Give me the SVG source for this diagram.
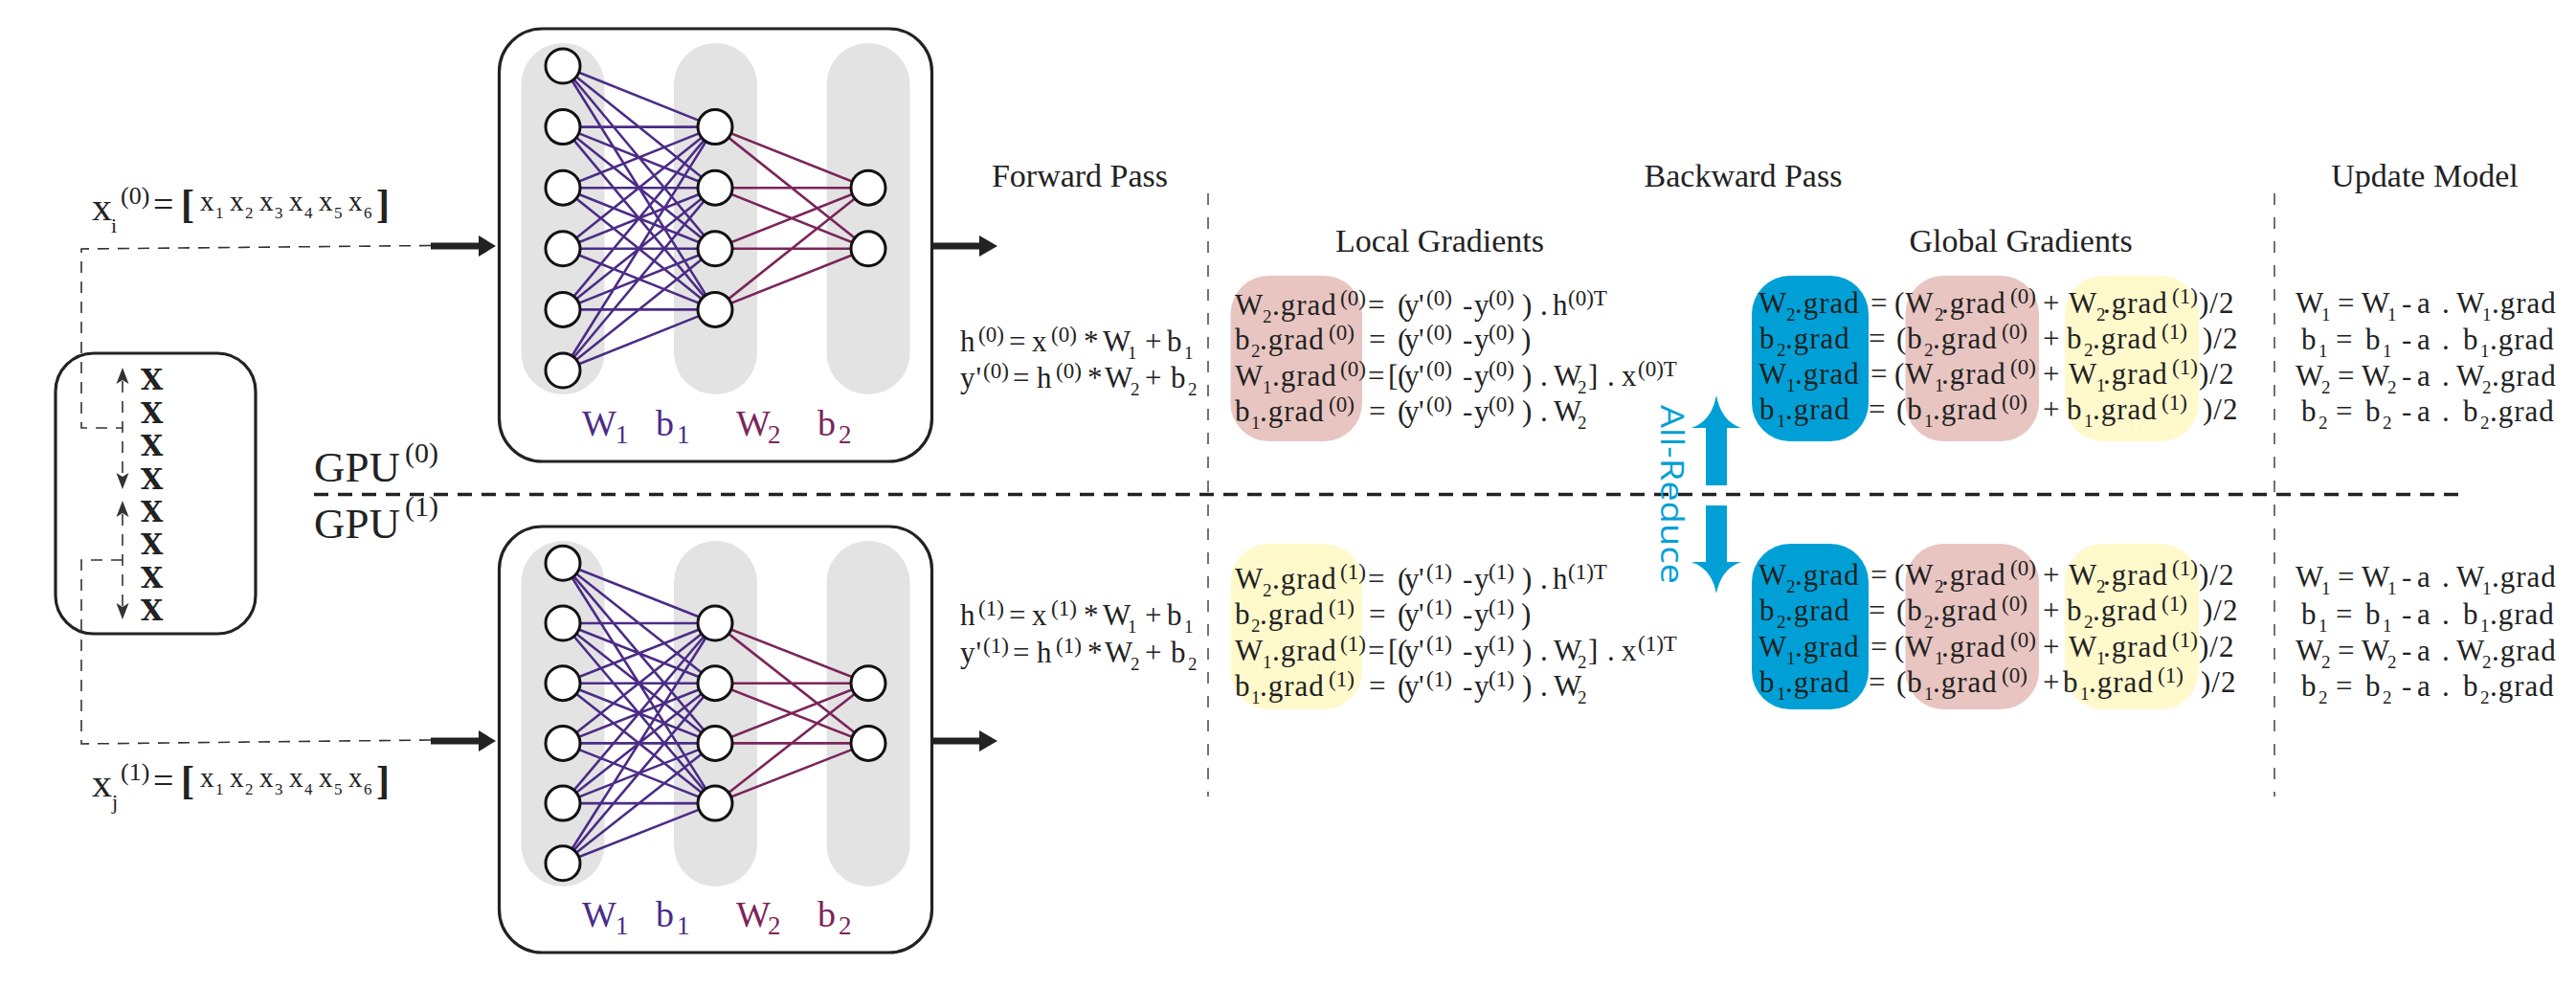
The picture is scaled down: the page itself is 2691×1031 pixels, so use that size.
<svg xmlns="http://www.w3.org/2000/svg" width="2691" height="1031" viewBox="0 0 2691 1031">
<style>
text{font-family:"Liberation Serif","Times New Roman",serif;fill:#222}
.hd{font-size:34px}
.eq{font-size:31px;letter-spacing:1px}
.s{font-size:23px;letter-spacing:0}
.sb{font-size:19px;letter-spacing:0}
.X{font-family:"DejaVu Serif",serif;font-weight:bold;font-size:30px}
.gpu{font-size:45px}
.gs{font-size:30px}
.brk{font-weight:bold;font-size:42px}
.xv{font-size:29px}
.xs{font-size:17px}
.nl{font-size:38px}
.nls{font-size:27px}
.p1{fill:#4b2c86}
.p2{fill:#7b2559}
.box{fill:#fff;stroke:#222;stroke-width:3.2}
.col{fill:#e3e3e3}
.node{fill:#fff;stroke:#111;stroke-width:3}
.e1{fill:none;stroke:#4b2c86;stroke-width:2.6}
.e2{fill:none;stroke:#7b2559;stroke-width:2.6}
.dl{fill:none;stroke:#333;stroke-width:1.6;stroke-dasharray:12 9}
.vd{fill:none;stroke:#444;stroke-width:1.5;stroke-dasharray:12 13}
.gd{fill:none;stroke:#222;stroke-width:3.5;stroke-dasharray:15 10}
.thick{stroke:#222;stroke-width:7}
.ah{fill:#222}
.sh{fill:#333}
.pink{fill:#e8c5c1}
.yel{fill:#fff9cc}
.blue{fill:#00a0d6}
</style>
<rect width="2691" height="1031" fill="#fff"/>

<g id="dividers">
<path class="vd" d="M1262,202V832"/>
<path class="vd" d="M2376,202V832"/>
<path class="gd" d="M328,516.5H2575"/>
</g>

<g id="data-box">
<rect class="box" x="58" y="369" width="209" height="293" rx="40"/>
<text class="X" x="147" y="407">X</text>
<text class="X" x="147" y="442">X</text>
<text class="X" x="147" y="476">X</text>
<text class="X" x="147" y="511">X</text>
<text class="X" x="147" y="545">X</text>
<text class="X" x="147" y="579">X</text>
<text class="X" x="147" y="614">X</text>
<text class="X" x="147" y="648">X</text>
</g>

<g id="xi-label">
<text><tspan x="96" y="230" font-size="42">x</tspan><tspan x="116" y="243" font-size="22">i</tspan><tspan x="126" y="213" font-size="26">(0)</tspan><tspan x="160" y="226" font-size="38">=</tspan></text>
<text class="brk" x="189" y="227">[</text>
<text class="xv"><tspan x="209" y="220">x</tspan><tspan class="xs" x="225" y="228">1</tspan><tspan x="240" y="220">x</tspan><tspan class="xs" x="256" y="228">2</tspan><tspan x="271" y="220">x</tspan><tspan class="xs" x="287" y="228">3</tspan><tspan x="302" y="220">x</tspan><tspan class="xs" x="318" y="228">4</tspan><tspan x="333" y="220">x</tspan><tspan class="xs" x="349" y="228">5</tspan><tspan x="364" y="220">x</tspan><tspan class="xs" x="380" y="228">6</tspan></text>
<text class="brk" x="393" y="227">]</text>
</g>
<g id="xj-label">
<text><tspan x="96" y="832" font-size="42">x</tspan><tspan x="117" y="845" font-size="22">j</tspan><tspan x="126" y="815" font-size="26">(1)</tspan><tspan x="160" y="828" font-size="38">=</tspan></text>
<text class="brk" x="189" y="829">[</text>
<text class="xv"><tspan x="209" y="822">x</tspan><tspan class="xs" x="225" y="830">1</tspan><tspan x="240" y="822">x</tspan><tspan class="xs" x="256" y="830">2</tspan><tspan x="271" y="822">x</tspan><tspan class="xs" x="287" y="830">3</tspan><tspan x="302" y="822">x</tspan><tspan class="xs" x="318" y="830">4</tspan><tspan x="333" y="822">x</tspan><tspan class="xs" x="349" y="830">5</tspan><tspan x="364" y="822">x</tspan><tspan class="xs" x="380" y="830">6</tspan></text>
<text class="brk" x="393" y="829">]</text>
</g>

<g id="gpu-labels">
<text class="gpu" x="328" y="503">GPU<tspan class="gs" x="423" y="483">(0)</tspan></text>
<text class="gpu" x="328" y="562">GPU<tspan class="gs" x="423" y="539">(1)</tspan></text>
</g>

<g id="nn-gpu0">
<rect class="box" x="521.5" y="30" width="452" height="452" rx="45"/>
<rect class="col" x="544.5" y="45" width="87" height="367" rx="43.5"/>
<rect class="col" x="704" y="45" width="87" height="367" rx="43.5"/>
<rect class="col" x="863.5" y="45" width="87" height="367" rx="43.5"/>
<path class="e1" d="M588 69L747 132.6M588 69L747 196.2M588 69L747 259.8M588 69L747 323.4M588 132.6L747 132.6M588 132.6L747 196.2M588 132.6L747 259.8M588 132.6L747 323.4M588 196.2L747 132.6M588 196.2L747 196.2M588 196.2L747 259.8M588 196.2L747 323.4M588 259.8L747 132.6M588 259.8L747 196.2M588 259.8L747 259.8M588 259.8L747 323.4M588 323.4L747 132.6M588 323.4L747 196.2M588 323.4L747 259.8M588 323.4L747 323.4M588 387L747 132.6M588 387L747 196.2M588 387L747 259.8M588 387L747 323.4"/>
<path class="e2" d="M747 132.6L907 196.2M747 132.6L907 259.8M747 196.2L907 196.2M747 196.2L907 259.8M747 259.8L907 196.2M747 259.8L907 259.8M747 323.4L907 196.2M747 323.4L907 259.8"/>
<circle class="node" cx="588" cy="69" r="18"/>
<circle class="node" cx="588" cy="132.6" r="18"/>
<circle class="node" cx="588" cy="196.2" r="18"/>
<circle class="node" cx="588" cy="259.8" r="18"/>
<circle class="node" cx="588" cy="323.4" r="18"/>
<circle class="node" cx="588" cy="387" r="18"/>
<circle class="node" cx="747" cy="132.6" r="18"/>
<circle class="node" cx="747" cy="196.2" r="18"/>
<circle class="node" cx="747" cy="259.8" r="18"/>
<circle class="node" cx="747" cy="323.4" r="18"/>
<circle class="node" cx="907" cy="196.2" r="18"/>
<circle class="node" cx="907" cy="259.8" r="18"/>
<text class="nl p1" x="608" y="455">W<tspan class="nls" x="643" y="463">1</tspan></text>
<text class="nl p1" x="685" y="455">b<tspan class="nls" x="707" y="463">1</tspan></text>
<text class="nl p2" x="769" y="455">W<tspan class="nls" x="802" y="463">2</tspan></text>
<text class="nl p2" x="854" y="455">b<tspan class="nls" x="876" y="463">2</tspan></text>
</g>

<g id="nn-gpu1">
<rect class="box" x="521.5" y="550" width="452" height="445" rx="45"/>
<rect class="col" x="544.5" y="565" width="87" height="361" rx="43.5"/>
<rect class="col" x="704" y="565" width="87" height="361" rx="43.5"/>
<rect class="col" x="863.5" y="565" width="87" height="361" rx="43.5"/>
<path class="e1" d="M588 588.3L747 651M588 588.3L747 713.7M588 588.3L747 776.4M588 588.3L747 839.1M588 651L747 651M588 651L747 713.7M588 651L747 776.4M588 651L747 839.1M588 713.7L747 651M588 713.7L747 713.7M588 713.7L747 776.4M588 713.7L747 839.1M588 776.4L747 651M588 776.4L747 713.7M588 776.4L747 776.4M588 776.4L747 839.1M588 839.1L747 651M588 839.1L747 713.7M588 839.1L747 776.4M588 839.1L747 839.1M588 901.8L747 651M588 901.8L747 713.7M588 901.8L747 776.4M588 901.8L747 839.1"/>
<path class="e2" d="M747 651L907 713.7M747 651L907 776.4M747 713.7L907 713.7M747 713.7L907 776.4M747 776.4L907 713.7M747 776.4L907 776.4M747 839.1L907 713.7M747 839.1L907 776.4"/>
<circle class="node" cx="588" cy="588.3" r="18"/>
<circle class="node" cx="588" cy="651" r="18"/>
<circle class="node" cx="588" cy="713.7" r="18"/>
<circle class="node" cx="588" cy="776.4" r="18"/>
<circle class="node" cx="588" cy="839.1" r="18"/>
<circle class="node" cx="588" cy="901.8" r="18"/>
<circle class="node" cx="747" cy="651" r="18"/>
<circle class="node" cx="747" cy="713.7" r="18"/>
<circle class="node" cx="747" cy="776.4" r="18"/>
<circle class="node" cx="747" cy="839.1" r="18"/>
<circle class="node" cx="907" cy="713.7" r="18"/>
<circle class="node" cx="907" cy="776.4" r="18"/>
<text class="nl p1" x="608" y="968">W<tspan class="nls" x="643" y="976">1</tspan></text>
<text class="nl p1" x="685" y="968">b<tspan class="nls" x="707" y="976">1</tspan></text>
<text class="nl p2" x="769" y="968">W<tspan class="nls" x="802" y="976">2</tspan></text>
<text class="nl p2" x="854" y="968">b<tspan class="nls" x="876" y="976">2</tspan></text>
</g>

<g id="connectors">
<path class="dl" d="M450,256.5L85,260V447H128"/>
<path class="dl" d="M128,398V496"/>
<path class="sh" d="M128,384L134.5,401L128,397L121.5,401Z"/>
<path class="sh" d="M128,511L134.5,494L128,498L121.5,494Z"/>
<path class="dl" d="M128,585H85V777L450,773"/>
<path class="dl" d="M128,537V633"/>
<path class="sh" d="M128,523L134.5,540L128,536L121.5,540Z"/>
<path class="sh" d="M128,647L134.5,630L128,634L121.5,630Z"/>
<line class="thick" x1="450" y1="257" x2="503" y2="257"/>
<polygon class="ah" points="500,246 518,257 500,268"/>
<line class="thick" x1="974" y1="257" x2="1026" y2="257"/>
<polygon class="ah" points="1023,246 1042,257 1023,268"/>
<line class="thick" x1="450" y1="774" x2="503" y2="774"/>
<polygon class="ah" points="500,763 518,774 500,785"/>
<line class="thick" x1="974" y1="774" x2="1026" y2="774"/>
<polygon class="ah" points="1023,763 1042,774 1023,785"/>
<path class="blue" d="M1782,507V447H1767Q1788,440 1793,413Q1798,440 1819,447H1804V507Z"/>
<path class="blue" d="M1782,528V587H1767Q1788,594 1793,620Q1798,594 1819,587H1804V528Z"/>
<text transform="translate(1735,423) rotate(90)" style="font-family:'Open Sans','Liberation Sans',sans-serif;fill:#00a0d6" font-size="33" textLength="187" lengthAdjust="spacingAndGlyphs">All-Reduce</text>
</g>

<g id="headers">
<text class="hd" x="1128" y="195" text-anchor="middle">Forward Pass</text>
<text class="hd" x="1821" y="195" text-anchor="middle">Backward Pass</text>
<text class="hd" x="2533" y="195" text-anchor="middle">Update Model</text>
<text class="hd" x="1504" y="263" text-anchor="middle">Local Gradients</text>
<text class="hd" x="2111" y="263" text-anchor="middle">Global Gradients</text>
</g>

<g id="forward-gpu0">
<text class="eq"><tspan x="1003" y="367">h</tspan><tspan class="s" x="1022" y="357">(0)</tspan><tspan x="1054" y="367">=</tspan><tspan x="1078">x</tspan><tspan class="s" x="1098" y="357">(0)</tspan><tspan x="1132" y="367">*</tspan><tspan x="1152">W</tspan><tspan class="sb" x="1178" y="375">1</tspan><tspan x="1196" y="367">+</tspan><tspan x="1219">b</tspan><tspan class="sb" x="1237" y="375">1</tspan></text>
<text class="eq"><tspan x="1003" y="405">y'</tspan><tspan class="s" x="1027" y="395">(0)</tspan><tspan x="1058" y="405">=</tspan><tspan x="1083">h</tspan><tspan class="s" x="1103" y="395">(0)</tspan><tspan x="1136" y="405">*</tspan><tspan x="1154">W</tspan><tspan class="sb" x="1181" y="413">2</tspan><tspan x="1196" y="405">+</tspan><tspan x="1223">b</tspan><tspan class="sb" x="1241" y="413">2</tspan></text>
</g>
<g id="forward-gpu1">
<text class="eq"><tspan x="1003" y="653">h</tspan><tspan class="s" x="1022" y="643">(1)</tspan><tspan x="1054" y="653">=</tspan><tspan x="1078">x</tspan><tspan class="s" x="1098" y="643">(1)</tspan><tspan x="1132" y="653">*</tspan><tspan x="1152">W</tspan><tspan class="sb" x="1178" y="661">1</tspan><tspan x="1196" y="653">+</tspan><tspan x="1219">b</tspan><tspan class="sb" x="1237" y="661">1</tspan></text>
<text class="eq"><tspan x="1003" y="692">y'</tspan><tspan class="s" x="1027" y="682">(1)</tspan><tspan x="1058" y="692">=</tspan><tspan x="1083">h</tspan><tspan class="s" x="1103" y="682">(1)</tspan><tspan x="1136" y="692">*</tspan><tspan x="1154">W</tspan><tspan class="sb" x="1181" y="700">2</tspan><tspan x="1196" y="692">+</tspan><tspan x="1223">b</tspan><tspan class="sb" x="1241" y="700">2</tspan></text>
</g>

<g id="local-gpu0">
<rect class="pink" x="1285.5" y="288" width="137.5" height="173" rx="40"/>
<text class="eq"><tspan x="1290" y="329">W</tspan><tspan class="sb" x="1319" y="337">2</tspan><tspan x="1329" y="329">.grad</tspan><tspan class="s" x="1400" y="319">(0)</tspan><tspan x="1429" y="329">=</tspan><tspan x="1460">(</tspan><tspan x="1467">y</tspan><tspan x="1482">'</tspan><tspan class="s" x="1490" y="319">(0)</tspan><tspan x="1528" y="329">-</tspan><tspan x="1540">y</tspan><tspan class="s" x="1555" y="319">(0)</tspan><tspan x="1590" y="329">)</tspan><tspan x="1609">.</tspan><tspan x="1622">h</tspan><tspan class="s" x="1638" y="319">(0)T</tspan></text>
<text class="eq"><tspan x="1290" y="365">b</tspan><tspan class="sb" x="1307" y="373">2</tspan><tspan x="1316" y="365">.grad</tspan><tspan class="s" x="1388" y="355">(0)</tspan><tspan x="1430" y="365">=</tspan><tspan x="1460">(</tspan><tspan x="1467">y</tspan><tspan x="1482">'</tspan><tspan class="s" x="1490" y="355">(0)</tspan><tspan x="1528" y="365">-</tspan><tspan x="1540">y</tspan><tspan class="s" x="1555" y="355">(0)</tspan><tspan x="1589" y="365">)</tspan></text>
<text class="eq"><tspan x="1290" y="403">W</tspan><tspan class="sb" x="1319" y="411">1</tspan><tspan x="1329" y="403">.grad</tspan><tspan class="s" x="1400" y="393">(0)</tspan><tspan x="1429" y="403">=</tspan><tspan x="1450">[</tspan><tspan x="1460">(</tspan><tspan x="1467">y</tspan><tspan x="1482">'</tspan><tspan class="s" x="1490" y="393">(0)</tspan><tspan x="1528" y="403">-</tspan><tspan x="1540">y</tspan><tspan class="s" x="1555" y="393">(0)</tspan><tspan x="1590" y="403">)</tspan><tspan x="1609">.</tspan><tspan x="1623">W</tspan><tspan class="sb" x="1648" y="411">2</tspan><tspan x="1659" y="403">]</tspan><tspan x="1679">.</tspan><tspan x="1694">x</tspan><tspan class="s" x="1711" y="393">(0)T</tspan></text>
<text class="eq"><tspan x="1290" y="440">b</tspan><tspan class="sb" x="1307" y="448">1</tspan><tspan x="1316" y="440">.grad</tspan><tspan class="s" x="1388" y="430">(0)</tspan><tspan x="1430" y="440">=</tspan><tspan x="1460">(</tspan><tspan x="1467">y</tspan><tspan x="1482">'</tspan><tspan class="s" x="1490" y="430">(0)</tspan><tspan x="1528" y="440">-</tspan><tspan x="1540">y</tspan><tspan class="s" x="1555" y="430">(0)</tspan><tspan x="1590" y="440">)</tspan><tspan x="1609">.</tspan><tspan x="1623">W</tspan><tspan class="sb" x="1648" y="448">2</tspan></text>
</g>

<g id="local-gpu1">
<rect class="yel" x="1285.5" y="568" width="137.5" height="173" rx="40"/>
<text class="eq"><tspan x="1290" y="615">W</tspan><tspan class="sb" x="1319" y="623">2</tspan><tspan x="1329" y="615">.grad</tspan><tspan class="s" x="1400" y="605">(1)</tspan><tspan x="1429" y="615">=</tspan><tspan x="1460">(</tspan><tspan x="1467">y</tspan><tspan x="1482">'</tspan><tspan class="s" x="1490" y="605">(1)</tspan><tspan x="1528" y="615">-</tspan><tspan x="1540">y</tspan><tspan class="s" x="1555" y="605">(1)</tspan><tspan x="1590" y="615">)</tspan><tspan x="1609">.</tspan><tspan x="1622">h</tspan><tspan class="s" x="1638" y="605">(1)T</tspan></text>
<text class="eq"><tspan x="1290" y="652">b</tspan><tspan class="sb" x="1307" y="660">2</tspan><tspan x="1316" y="652">.grad</tspan><tspan class="s" x="1388" y="642">(1)</tspan><tspan x="1430" y="652">=</tspan><tspan x="1460">(</tspan><tspan x="1467">y</tspan><tspan x="1482">'</tspan><tspan class="s" x="1490" y="642">(1)</tspan><tspan x="1528" y="652">-</tspan><tspan x="1540">y</tspan><tspan class="s" x="1555" y="642">(1)</tspan><tspan x="1589" y="652">)</tspan></text>
<text class="eq"><tspan x="1290" y="690">W</tspan><tspan class="sb" x="1319" y="698">1</tspan><tspan x="1329" y="690">.grad</tspan><tspan class="s" x="1400" y="680">(1)</tspan><tspan x="1429" y="690">=</tspan><tspan x="1450">[</tspan><tspan x="1460">(</tspan><tspan x="1467">y</tspan><tspan x="1482">'</tspan><tspan class="s" x="1490" y="680">(1)</tspan><tspan x="1528" y="690">-</tspan><tspan x="1540">y</tspan><tspan class="s" x="1555" y="680">(1)</tspan><tspan x="1590" y="690">)</tspan><tspan x="1609">.</tspan><tspan x="1623">W</tspan><tspan class="sb" x="1648" y="698">2</tspan><tspan x="1659" y="690">]</tspan><tspan x="1679">.</tspan><tspan x="1694">x</tspan><tspan class="s" x="1711" y="680">(1)T</tspan></text>
<text class="eq"><tspan x="1290" y="727">b</tspan><tspan class="sb" x="1307" y="735">1</tspan><tspan x="1316" y="727">.grad</tspan><tspan class="s" x="1388" y="717">(1)</tspan><tspan x="1430" y="727">=</tspan><tspan x="1460">(</tspan><tspan x="1467">y</tspan><tspan x="1482">'</tspan><tspan class="s" x="1490" y="717">(1)</tspan><tspan x="1528" y="727">-</tspan><tspan x="1540">y</tspan><tspan class="s" x="1555" y="717">(1)</tspan><tspan x="1590" y="727">)</tspan><tspan x="1609">.</tspan><tspan x="1623">W</tspan><tspan class="sb" x="1648" y="735">2</tspan></text>
</g>

<g id="global-gpu0">
<rect class="blue" x="1830" y="288" width="122" height="173" rx="40"/>
<rect class="pink" x="1990.5" y="288" width="139.5" height="173" rx="40"/>
<rect class="yel" x="2157" y="288" width="140" height="173" rx="40"/>
<text class="eq"><tspan x="1837" y="327">W</tspan><tspan class="sb" x="1866" y="335">2</tspan><tspan x="1875" y="327">.grad</tspan><tspan x="1954">=</tspan><tspan x="1979">(W</tspan><tspan class="sb" x="2021" y="335">2</tspan><tspan x="2028" y="327">.grad</tspan><tspan class="s" x="2100" y="317">(0)</tspan><tspan x="2134" y="327">+</tspan><tspan x="2161">W</tspan><tspan class="sb" x="2190" y="335">2</tspan><tspan x="2197" y="327">.grad</tspan><tspan class="s" x="2269" y="317">(1)</tspan><tspan x="2297" y="327">)/2</tspan></text>
<text class="eq"><tspan x="1838" y="364">b</tspan><tspan class="sb" x="1856" y="372">2</tspan><tspan x="1865" y="364">.grad</tspan><tspan x="1952">=</tspan><tspan x="1981">(b</tspan><tspan class="sb" x="2010" y="372">2</tspan><tspan x="2019" y="364">.grad</tspan><tspan class="s" x="2091" y="354">(0)</tspan><tspan x="2134" y="364">+</tspan><tspan x="2159">b</tspan><tspan class="sb" x="2177" y="372">2</tspan><tspan x="2186" y="364">.grad</tspan><tspan class="s" x="2258" y="354">(1)</tspan><tspan x="2301" y="364">)/2</tspan></text>
<text class="eq"><tspan x="1837" y="401">W</tspan><tspan class="sb" x="1866" y="409">1</tspan><tspan x="1875" y="401">.grad</tspan><tspan x="1954">=</tspan><tspan x="1979">(W</tspan><tspan class="sb" x="2021" y="409">1</tspan><tspan x="2028" y="401">.grad</tspan><tspan class="s" x="2100" y="391">(0)</tspan><tspan x="2134" y="401">+</tspan><tspan x="2161">W</tspan><tspan class="sb" x="2190" y="409">1</tspan><tspan x="2197" y="401">.grad</tspan><tspan class="s" x="2269" y="391">(1)</tspan><tspan x="2297" y="401">)/2</tspan></text>
<text class="eq"><tspan x="1838" y="438">b</tspan><tspan class="sb" x="1856" y="446">1</tspan><tspan x="1865" y="438">.grad</tspan><tspan x="1952">=</tspan><tspan x="1981">(b</tspan><tspan class="sb" x="2010" y="446">1</tspan><tspan x="2019" y="438">.grad</tspan><tspan class="s" x="2091" y="428">(0)</tspan><tspan x="2134" y="438">+</tspan><tspan x="2159">b</tspan><tspan class="sb" x="2177" y="446">1</tspan><tspan x="2186" y="438">.grad</tspan><tspan class="s" x="2258" y="428">(1)</tspan><tspan x="2301" y="438">)/2</tspan></text>
</g>

<g id="global-gpu1">
<rect class="blue" x="1830" y="568" width="122" height="173" rx="40"/>
<rect class="pink" x="1990.5" y="568" width="139.5" height="173" rx="40"/>
<rect class="yel" x="2157" y="568" width="140" height="173" rx="40"/>
<text class="eq"><tspan x="1837" y="611">W</tspan><tspan class="sb" x="1866" y="619">2</tspan><tspan x="1875" y="611">.grad</tspan><tspan x="1954">=</tspan><tspan x="1979">(W</tspan><tspan class="sb" x="2021" y="619">2</tspan><tspan x="2028" y="611">.grad</tspan><tspan class="s" x="2100" y="601">(0)</tspan><tspan x="2134" y="611">+</tspan><tspan x="2161">W</tspan><tspan class="sb" x="2190" y="619">2</tspan><tspan x="2197" y="611">.grad</tspan><tspan class="s" x="2269" y="601">(1)</tspan><tspan x="2297" y="611">)/2</tspan></text>
<text class="eq"><tspan x="1838" y="648">b</tspan><tspan class="sb" x="1856" y="656">2</tspan><tspan x="1865" y="648">.grad</tspan><tspan x="1952">=</tspan><tspan x="1981">(b</tspan><tspan class="sb" x="2010" y="656">2</tspan><tspan x="2019" y="648">.grad</tspan><tspan class="s" x="2091" y="638">(0)</tspan><tspan x="2134" y="648">+</tspan><tspan x="2159">b</tspan><tspan class="sb" x="2177" y="656">2</tspan><tspan x="2186" y="648">.grad</tspan><tspan class="s" x="2258" y="638">(1)</tspan><tspan x="2301" y="648">)/2</tspan></text>
<text class="eq"><tspan x="1837" y="686">W</tspan><tspan class="sb" x="1866" y="694">1</tspan><tspan x="1875" y="686">.grad</tspan><tspan x="1954">=</tspan><tspan x="1979">(W</tspan><tspan class="sb" x="2021" y="694">1</tspan><tspan x="2028" y="686">.grad</tspan><tspan class="s" x="2100" y="676">(0)</tspan><tspan x="2134" y="686">+</tspan><tspan x="2161">W</tspan><tspan class="sb" x="2190" y="694">1</tspan><tspan x="2197" y="686">.grad</tspan><tspan class="s" x="2269" y="676">(1)</tspan><tspan x="2297" y="686">)/2</tspan></text>
<text class="eq"><tspan x="1838" y="723">b</tspan><tspan class="sb" x="1856" y="731">1</tspan><tspan x="1865" y="723">.grad</tspan><tspan x="1952">=</tspan><tspan x="1981">(b</tspan><tspan class="sb" x="2010" y="731">1</tspan><tspan x="2019" y="723">.grad</tspan><tspan class="s" x="2091" y="713">(0)</tspan><tspan x="2134" y="723">+</tspan><tspan x="2155">b</tspan><tspan class="sb" x="2173" y="731">1</tspan><tspan x="2182" y="723">.grad</tspan><tspan class="s" x="2254" y="713">(1)</tspan><tspan x="2299" y="723">)/2</tspan></text>
</g>

<g id="update-gpu0">
<text class="eq"><tspan x="2398" y="327">W</tspan><tspan class="sb" x="2425" y="335">1</tspan><tspan x="2442" y="327">=</tspan><tspan x="2467">W</tspan><tspan class="sb" x="2494" y="335">1</tspan><tspan x="2509" y="327">-</tspan><tspan x="2525">a</tspan><tspan x="2551">.</tspan><tspan x="2566">W</tspan><tspan class="sb" x="2593" y="335">1</tspan><tspan x="2603" y="327">.grad</tspan></text>
<text class="eq"><tspan x="2404" y="365">b</tspan><tspan class="sb" x="2422" y="373">1</tspan><tspan x="2440" y="365">=</tspan><tspan x="2471">b</tspan><tspan class="sb" x="2489" y="373">1</tspan><tspan x="2509" y="365">-</tspan><tspan x="2525">a</tspan><tspan x="2551">.</tspan><tspan x="2573">b</tspan><tspan class="sb" x="2591" y="373">1</tspan><tspan x="2601" y="365">.grad</tspan></text>
<text class="eq"><tspan x="2398" y="403">W</tspan><tspan class="sb" x="2425" y="411">2</tspan><tspan x="2442" y="403">=</tspan><tspan x="2467">W</tspan><tspan class="sb" x="2494" y="411">2</tspan><tspan x="2509" y="403">-</tspan><tspan x="2525">a</tspan><tspan x="2551">.</tspan><tspan x="2566">W</tspan><tspan class="sb" x="2593" y="411">2</tspan><tspan x="2603" y="403">.grad</tspan></text>
<text class="eq"><tspan x="2404" y="440">b</tspan><tspan class="sb" x="2422" y="448">2</tspan><tspan x="2440" y="440">=</tspan><tspan x="2471">b</tspan><tspan class="sb" x="2489" y="448">2</tspan><tspan x="2509" y="440">-</tspan><tspan x="2525">a</tspan><tspan x="2551">.</tspan><tspan x="2573">b</tspan><tspan class="sb" x="2591" y="448">2</tspan><tspan x="2601" y="440">.grad</tspan></text>
</g>
<g id="update-gpu1">
<text class="eq"><tspan x="2398" y="613">W</tspan><tspan class="sb" x="2425" y="621">1</tspan><tspan x="2442" y="613">=</tspan><tspan x="2467">W</tspan><tspan class="sb" x="2494" y="621">1</tspan><tspan x="2509" y="613">-</tspan><tspan x="2525">a</tspan><tspan x="2551">.</tspan><tspan x="2566">W</tspan><tspan class="sb" x="2593" y="621">1</tspan><tspan x="2603" y="613">.grad</tspan></text>
<text class="eq"><tspan x="2404" y="652">b</tspan><tspan class="sb" x="2422" y="660">1</tspan><tspan x="2440" y="652">=</tspan><tspan x="2471">b</tspan><tspan class="sb" x="2489" y="660">1</tspan><tspan x="2509" y="652">-</tspan><tspan x="2525">a</tspan><tspan x="2551">.</tspan><tspan x="2573">b</tspan><tspan class="sb" x="2591" y="660">1</tspan><tspan x="2601" y="652">.grad</tspan></text>
<text class="eq"><tspan x="2398" y="690">W</tspan><tspan class="sb" x="2425" y="698">2</tspan><tspan x="2442" y="690">=</tspan><tspan x="2467">W</tspan><tspan class="sb" x="2494" y="698">2</tspan><tspan x="2509" y="690">-</tspan><tspan x="2525">a</tspan><tspan x="2551">.</tspan><tspan x="2566">W</tspan><tspan class="sb" x="2593" y="698">2</tspan><tspan x="2603" y="690">.grad</tspan></text>
<text class="eq"><tspan x="2404" y="727">b</tspan><tspan class="sb" x="2422" y="735">2</tspan><tspan x="2440" y="727">=</tspan><tspan x="2471">b</tspan><tspan class="sb" x="2489" y="735">2</tspan><tspan x="2509" y="727">-</tspan><tspan x="2525">a</tspan><tspan x="2551">.</tspan><tspan x="2573">b</tspan><tspan class="sb" x="2591" y="735">2</tspan><tspan x="2601" y="727">.grad</tspan></text>
</g>
</svg>
